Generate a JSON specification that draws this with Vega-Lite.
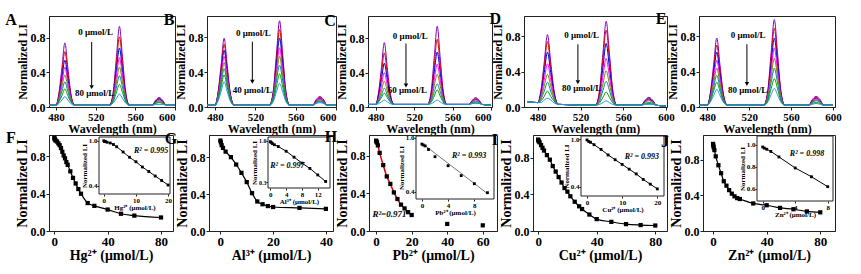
{
"$schema":"https://vega.github.io/schema/vega-lite/v6.json",
"padding":{"left":4,"top":10,"right":0,"bottom":0},
"config":{
 "view":{"stroke":"#222","strokeWidth":1},
 "axis":{"grid":false,"domainColor":"#222","tickColor":"#222","labelColor":"#000","titleColor":"#000","labelFont":"Liberation Serif","titleFont":"Liberation Serif","labelFontWeight":"bold","titleFontWeight":"bold","labelFontSize":12,"titleFontSize":12,"tickSize":3,"labelPadding":1,"titlePadding":1,"labelOverlap":false},
 "text":{"font":"Liberation Serif","fontWeight":"bold","color":"#000"}
},
"datasets":{
"A":[
{"c":0,"w":470,"v":0.02},{"c":0,"w":480,"v":0.02},{"c":0,"w":483,"v":0.16},{"c":0,"w":486,"v":0.45},{"c":0,"w":489,"v":0.74},{"c":0,"w":492,"v":0.45},{"c":0,"w":495,"v":0.16},{"c":0,"w":499,"v":0.02},{"c":0,"w":534,"v":0.02},{"c":0,"w":538,"v":0.2},{"c":0,"w":541,"v":0.58},{"c":0,"w":544,"v":0.93},{"c":0,"w":547,"v":0.58},{"c":0,"w":550,"v":0.2},{"c":0,"w":554,"v":0.02},{"c":0,"w":577,"v":0.02},{"c":0,"w":580,"v":0.07},{"c":0,"w":584,"v":0.11},{"c":0,"w":588,"v":0.07},{"c":0,"w":591,"v":0.02},{"c":0,"w":600,"v":0.02},
{"c":1,"w":470,"v":0.02},{"c":1,"w":480,"v":0.02},{"c":1,"w":483,"v":0.14},{"c":1,"w":486,"v":0.39},{"c":1,"w":489,"v":0.64},{"c":1,"w":492,"v":0.39},{"c":1,"w":495,"v":0.14},{"c":1,"w":499,"v":0.02},{"c":1,"w":534,"v":0.02},{"c":1,"w":538,"v":0.18},{"c":1,"w":541,"v":0.51},{"c":1,"w":544,"v":0.81},{"c":1,"w":547,"v":0.51},{"c":1,"w":550,"v":0.18},{"c":1,"w":554,"v":0.02},{"c":1,"w":577,"v":0.02},{"c":1,"w":580,"v":0.06},{"c":1,"w":584,"v":0.1},{"c":1,"w":588,"v":0.06},{"c":1,"w":591,"v":0.02},{"c":1,"w":600,"v":0.02},
{"c":2,"w":470,"v":0.02},{"c":2,"w":480,"v":0.02},{"c":2,"w":483,"v":0.12},{"c":2,"w":486,"v":0.33},{"c":2,"w":489,"v":0.54},{"c":2,"w":492,"v":0.33},{"c":2,"w":495,"v":0.12},{"c":2,"w":499,"v":0.02},{"c":2,"w":534,"v":0.02},{"c":2,"w":538,"v":0.15},{"c":2,"w":541,"v":0.43},{"c":2,"w":544,"v":0.68},{"c":2,"w":547,"v":0.43},{"c":2,"w":550,"v":0.15},{"c":2,"w":554,"v":0.02},{"c":2,"w":577,"v":0.02},{"c":2,"w":580,"v":0.06},{"c":2,"w":584,"v":0.09},{"c":2,"w":588,"v":0.06},{"c":2,"w":591,"v":0.02},{"c":2,"w":600,"v":0.02},
{"c":3,"w":470,"v":0.02},{"c":3,"w":480,"v":0.02},{"c":3,"w":483,"v":0.11},{"c":3,"w":486,"v":0.28},{"c":3,"w":489,"v":0.46},{"c":3,"w":492,"v":0.28},{"c":3,"w":495,"v":0.11},{"c":3,"w":499,"v":0.02},{"c":3,"w":534,"v":0.02},{"c":3,"w":538,"v":0.13},{"c":3,"w":541,"v":0.36},{"c":3,"w":544,"v":0.57},{"c":3,"w":547,"v":0.36},{"c":3,"w":550,"v":0.13},{"c":3,"w":554,"v":0.02},{"c":3,"w":577,"v":0.02},{"c":3,"w":580,"v":0.05},{"c":3,"w":584,"v":0.08},{"c":3,"w":588,"v":0.05},{"c":3,"w":591,"v":0.02},{"c":3,"w":600,"v":0.02},
{"c":4,"w":470,"v":0.02},{"c":4,"w":480,"v":0.02},{"c":4,"w":483,"v":0.09},{"c":4,"w":486,"v":0.23},{"c":4,"w":489,"v":0.37},{"c":4,"w":492,"v":0.23},{"c":4,"w":495,"v":0.09},{"c":4,"w":499,"v":0.02},{"c":4,"w":534,"v":0.02},{"c":4,"w":538,"v":0.11},{"c":4,"w":541,"v":0.29},{"c":4,"w":544,"v":0.46},{"c":4,"w":547,"v":0.29},{"c":4,"w":550,"v":0.11},{"c":4,"w":554,"v":0.02},{"c":4,"w":577,"v":0.02},{"c":4,"w":580,"v":0.05},{"c":4,"w":584,"v":0.07},{"c":4,"w":588,"v":0.05},{"c":4,"w":591,"v":0.02},{"c":4,"w":600,"v":0.02},
{"c":5,"w":470,"v":0.02},{"c":5,"w":480,"v":0.02},{"c":5,"w":483,"v":0.07},{"c":5,"w":486,"v":0.18},{"c":5,"w":489,"v":0.29},{"c":5,"w":492,"v":0.18},{"c":5,"w":495,"v":0.07},{"c":5,"w":499,"v":0.02},{"c":5,"w":534,"v":0.02},{"c":5,"w":538,"v":0.09},{"c":5,"w":541,"v":0.23},{"c":5,"w":544,"v":0.36},{"c":5,"w":547,"v":0.23},{"c":5,"w":550,"v":0.09},{"c":5,"w":554,"v":0.02},{"c":5,"w":577,"v":0.02},{"c":5,"w":580,"v":0.04},{"c":5,"w":584,"v":0.06},{"c":5,"w":588,"v":0.04},{"c":5,"w":591,"v":0.02},{"c":5,"w":600,"v":0.02},
{"c":6,"w":470,"v":0.02},{"c":6,"w":480,"v":0.02},{"c":6,"w":483,"v":0.06},{"c":6,"w":486,"v":0.13},{"c":6,"w":489,"v":0.21},{"c":6,"w":492,"v":0.13},{"c":6,"w":495,"v":0.06},{"c":6,"w":499,"v":0.02},{"c":6,"w":534,"v":0.02},{"c":6,"w":538,"v":0.07},{"c":6,"w":541,"v":0.17},{"c":6,"w":544,"v":0.26},{"c":6,"w":547,"v":0.17},{"c":6,"w":550,"v":0.07},{"c":6,"w":554,"v":0.02},{"c":6,"w":577,"v":0.02},{"c":6,"w":580,"v":0.04},{"c":6,"w":584,"v":0.05},{"c":6,"w":588,"v":0.04},{"c":6,"w":591,"v":0.02},{"c":6,"w":600,"v":0.02},
{"c":7,"w":470,"v":0.02},{"c":7,"w":480,"v":0.02},{"c":7,"w":483,"v":0.04},{"c":7,"w":486,"v":0.08},{"c":7,"w":489,"v":0.12},{"c":7,"w":492,"v":0.08},{"c":7,"w":495,"v":0.04},{"c":7,"w":499,"v":0.02},{"c":7,"w":534,"v":0.02},{"c":7,"w":538,"v":0.05},{"c":7,"w":541,"v":0.1},{"c":7,"w":544,"v":0.15},{"c":7,"w":547,"v":0.1},{"c":7,"w":550,"v":0.05},{"c":7,"w":554,"v":0.02},{"c":7,"w":577,"v":0.02},{"c":7,"w":580,"v":0.03},{"c":7,"w":584,"v":0.03},{"c":7,"w":588,"v":0.03},{"c":7,"w":591,"v":0.02},{"c":7,"w":600,"v":0.02}
],
"B":[
{"c":0,"w":470,"v":0.02},{"c":0,"w":480,"v":0.02},{"c":0,"w":483,"v":0.17},{"c":0,"w":486,"v":0.48},{"c":0,"w":489,"v":0.79},{"c":0,"w":492,"v":0.48},{"c":0,"w":495,"v":0.17},{"c":0,"w":499,"v":0.02},{"c":0,"w":534,"v":0.02},{"c":0,"w":538,"v":0.21},{"c":0,"w":541,"v":0.62},{"c":0,"w":544,"v":0.99},{"c":0,"w":547,"v":0.62},{"c":0,"w":550,"v":0.21},{"c":0,"w":554,"v":0.02},{"c":0,"w":577,"v":0.02},{"c":0,"w":580,"v":0.08},{"c":0,"w":584,"v":0.12},{"c":0,"w":588,"v":0.08},{"c":0,"w":591,"v":0.02},{"c":0,"w":600,"v":0.02},
{"c":1,"w":470,"v":0.02},{"c":1,"w":480,"v":0.02},{"c":1,"w":483,"v":0.16},{"c":1,"w":486,"v":0.44},{"c":1,"w":489,"v":0.72},{"c":1,"w":492,"v":0.44},{"c":1,"w":495,"v":0.16},{"c":1,"w":499,"v":0.02},{"c":1,"w":534,"v":0.02},{"c":1,"w":538,"v":0.19},{"c":1,"w":541,"v":0.56},{"c":1,"w":544,"v":0.89},{"c":1,"w":547,"v":0.56},{"c":1,"w":550,"v":0.19},{"c":1,"w":554,"v":0.02},{"c":1,"w":577,"v":0.02},{"c":1,"w":580,"v":0.07},{"c":1,"w":584,"v":0.11},{"c":1,"w":588,"v":0.07},{"c":1,"w":591,"v":0.02},{"c":1,"w":600,"v":0.02},
{"c":2,"w":470,"v":0.02},{"c":2,"w":480,"v":0.02},{"c":2,"w":483,"v":0.15},{"c":2,"w":486,"v":0.4},{"c":2,"w":489,"v":0.65},{"c":2,"w":492,"v":0.4},{"c":2,"w":495,"v":0.15},{"c":2,"w":499,"v":0.02},{"c":2,"w":534,"v":0.02},{"c":2,"w":538,"v":0.17},{"c":2,"w":541,"v":0.5},{"c":2,"w":544,"v":0.79},{"c":2,"w":547,"v":0.5},{"c":2,"w":550,"v":0.17},{"c":2,"w":554,"v":0.02},{"c":2,"w":577,"v":0.02},{"c":2,"w":580,"v":0.06},{"c":2,"w":584,"v":0.1},{"c":2,"w":588,"v":0.06},{"c":2,"w":591,"v":0.02},{"c":2,"w":600,"v":0.02},
{"c":3,"w":470,"v":0.02},{"c":3,"w":480,"v":0.02},{"c":3,"w":483,"v":0.13},{"c":3,"w":486,"v":0.36},{"c":3,"w":489,"v":0.58},{"c":3,"w":492,"v":0.36},{"c":3,"w":495,"v":0.13},{"c":3,"w":499,"v":0.02},{"c":3,"w":534,"v":0.02},{"c":3,"w":538,"v":0.15},{"c":3,"w":541,"v":0.43},{"c":3,"w":544,"v":0.68},{"c":3,"w":547,"v":0.43},{"c":3,"w":550,"v":0.15},{"c":3,"w":554,"v":0.02},{"c":3,"w":577,"v":0.02},{"c":3,"w":580,"v":0.06},{"c":3,"w":584,"v":0.09},{"c":3,"w":588,"v":0.06},{"c":3,"w":591,"v":0.02},{"c":3,"w":600,"v":0.02},
{"c":4,"w":470,"v":0.02},{"c":4,"w":480,"v":0.02},{"c":4,"w":483,"v":0.12},{"c":4,"w":486,"v":0.31},{"c":4,"w":489,"v":0.51},{"c":4,"w":492,"v":0.31},{"c":4,"w":495,"v":0.12},{"c":4,"w":499,"v":0.02},{"c":4,"w":534,"v":0.02},{"c":4,"w":538,"v":0.13},{"c":4,"w":541,"v":0.37},{"c":4,"w":544,"v":0.58},{"c":4,"w":547,"v":0.37},{"c":4,"w":550,"v":0.13},{"c":4,"w":554,"v":0.02},{"c":4,"w":577,"v":0.02},{"c":4,"w":580,"v":0.05},{"c":4,"w":584,"v":0.08},{"c":4,"w":588,"v":0.05},{"c":4,"w":591,"v":0.02},{"c":4,"w":600,"v":0.02},
{"c":5,"w":470,"v":0.02},{"c":5,"w":480,"v":0.02},{"c":5,"w":483,"v":0.1},{"c":5,"w":486,"v":0.27},{"c":5,"w":489,"v":0.44},{"c":5,"w":492,"v":0.27},{"c":5,"w":495,"v":0.1},{"c":5,"w":499,"v":0.02},{"c":5,"w":534,"v":0.02},{"c":5,"w":538,"v":0.11},{"c":5,"w":541,"v":0.31},{"c":5,"w":544,"v":0.48},{"c":5,"w":547,"v":0.31},{"c":5,"w":550,"v":0.11},{"c":5,"w":554,"v":0.02},{"c":5,"w":577,"v":0.02},{"c":5,"w":580,"v":0.05},{"c":5,"w":584,"v":0.07},{"c":5,"w":588,"v":0.05},{"c":5,"w":591,"v":0.02},{"c":5,"w":600,"v":0.02},
{"c":6,"w":470,"v":0.02},{"c":6,"w":480,"v":0.02},{"c":6,"w":483,"v":0.09},{"c":6,"w":486,"v":0.23},{"c":6,"w":489,"v":0.37},{"c":6,"w":492,"v":0.23},{"c":6,"w":495,"v":0.09},{"c":6,"w":499,"v":0.02},{"c":6,"w":534,"v":0.02},{"c":6,"w":538,"v":0.09},{"c":6,"w":541,"v":0.24},{"c":6,"w":544,"v":0.38},{"c":6,"w":547,"v":0.24},{"c":6,"w":550,"v":0.09},{"c":6,"w":554,"v":0.02},{"c":6,"w":577,"v":0.02},{"c":6,"w":580,"v":0.04},{"c":6,"w":584,"v":0.06},{"c":6,"w":588,"v":0.04},{"c":6,"w":591,"v":0.02},{"c":6,"w":600,"v":0.02},
{"c":7,"w":470,"v":0.02},{"c":7,"w":480,"v":0.02},{"c":7,"w":483,"v":0.07},{"c":7,"w":486,"v":0.18},{"c":7,"w":489,"v":0.29},{"c":7,"w":492,"v":0.18},{"c":7,"w":495,"v":0.07},{"c":7,"w":499,"v":0.02},{"c":7,"w":534,"v":0.02},{"c":7,"w":538,"v":0.07},{"c":7,"w":541,"v":0.18},{"c":7,"w":544,"v":0.27},{"c":7,"w":547,"v":0.18},{"c":7,"w":550,"v":0.07},{"c":7,"w":554,"v":0.02},{"c":7,"w":577,"v":0.02},{"c":7,"w":580,"v":0.04},{"c":7,"w":584,"v":0.05},{"c":7,"w":588,"v":0.04},{"c":7,"w":591,"v":0.02},{"c":7,"w":600,"v":0.02}
],
"C":[
{"c":0,"w":470,"v":0.03},{"c":0,"w":480,"v":0.03},{"c":0,"w":483,"v":0.17},{"c":0,"w":486,"v":0.46},{"c":0,"w":489,"v":0.75},{"c":0,"w":492,"v":0.46},{"c":0,"w":495,"v":0.17},{"c":0,"w":499,"v":0.03},{"c":0,"w":534,"v":0.03},{"c":0,"w":538,"v":0.21},{"c":0,"w":541,"v":0.59},{"c":0,"w":544,"v":0.94},{"c":0,"w":547,"v":0.59},{"c":0,"w":550,"v":0.21},{"c":0,"w":554,"v":0.03},{"c":0,"w":577,"v":0.03},{"c":0,"w":580,"v":0.07},{"c":0,"w":584,"v":0.11},{"c":0,"w":588,"v":0.07},{"c":0,"w":591,"v":0.03},{"c":0,"w":600,"v":0.02},
{"c":1,"w":470,"v":0.03},{"c":1,"w":480,"v":0.03},{"c":1,"w":483,"v":0.15},{"c":1,"w":486,"v":0.39},{"c":1,"w":489,"v":0.63},{"c":1,"w":492,"v":0.39},{"c":1,"w":495,"v":0.15},{"c":1,"w":499,"v":0.03},{"c":1,"w":534,"v":0.03},{"c":1,"w":538,"v":0.18},{"c":1,"w":541,"v":0.5},{"c":1,"w":544,"v":0.79},{"c":1,"w":547,"v":0.5},{"c":1,"w":550,"v":0.18},{"c":1,"w":554,"v":0.03},{"c":1,"w":577,"v":0.03},{"c":1,"w":580,"v":0.07},{"c":1,"w":584,"v":0.1},{"c":1,"w":588,"v":0.07},{"c":1,"w":591,"v":0.03},{"c":1,"w":600,"v":0.02},
{"c":2,"w":470,"v":0.03},{"c":2,"w":480,"v":0.03},{"c":2,"w":483,"v":0.13},{"c":2,"w":486,"v":0.32},{"c":2,"w":489,"v":0.51},{"c":2,"w":492,"v":0.32},{"c":2,"w":495,"v":0.13},{"c":2,"w":499,"v":0.03},{"c":2,"w":534,"v":0.03},{"c":2,"w":538,"v":0.15},{"c":2,"w":541,"v":0.41},{"c":2,"w":544,"v":0.64},{"c":2,"w":547,"v":0.41},{"c":2,"w":550,"v":0.15},{"c":2,"w":554,"v":0.03},{"c":2,"w":577,"v":0.03},{"c":2,"w":580,"v":0.06},{"c":2,"w":584,"v":0.09},{"c":2,"w":588,"v":0.06},{"c":2,"w":591,"v":0.03},{"c":2,"w":600,"v":0.02},
{"c":3,"w":470,"v":0.03},{"c":3,"w":480,"v":0.03},{"c":3,"w":483,"v":0.1},{"c":3,"w":486,"v":0.25},{"c":3,"w":489,"v":0.4},{"c":3,"w":492,"v":0.25},{"c":3,"w":495,"v":0.1},{"c":3,"w":499,"v":0.03},{"c":3,"w":534,"v":0.03},{"c":3,"w":538,"v":0.12},{"c":3,"w":541,"v":0.32},{"c":3,"w":544,"v":0.5},{"c":3,"w":547,"v":0.32},{"c":3,"w":550,"v":0.12},{"c":3,"w":554,"v":0.03},{"c":3,"w":577,"v":0.03},{"c":3,"w":580,"v":0.06},{"c":3,"w":584,"v":0.08},{"c":3,"w":588,"v":0.06},{"c":3,"w":591,"v":0.03},{"c":3,"w":600,"v":0.02},
{"c":4,"w":470,"v":0.03},{"c":4,"w":480,"v":0.03},{"c":4,"w":483,"v":0.08},{"c":4,"w":486,"v":0.19},{"c":4,"w":489,"v":0.3},{"c":4,"w":492,"v":0.19},{"c":4,"w":495,"v":0.08},{"c":4,"w":499,"v":0.03},{"c":4,"w":534,"v":0.03},{"c":4,"w":538,"v":0.1},{"c":4,"w":541,"v":0.25},{"c":4,"w":544,"v":0.38},{"c":4,"w":547,"v":0.25},{"c":4,"w":550,"v":0.1},{"c":4,"w":554,"v":0.03},{"c":4,"w":577,"v":0.03},{"c":4,"w":580,"v":0.05},{"c":4,"w":584,"v":0.07},{"c":4,"w":588,"v":0.05},{"c":4,"w":591,"v":0.03},{"c":4,"w":600,"v":0.02},
{"c":5,"w":470,"v":0.03},{"c":5,"w":480,"v":0.03},{"c":5,"w":483,"v":0.07},{"c":5,"w":486,"v":0.14},{"c":5,"w":489,"v":0.22},{"c":5,"w":492,"v":0.14},{"c":5,"w":495,"v":0.07},{"c":5,"w":499,"v":0.03},{"c":5,"w":534,"v":0.03},{"c":5,"w":538,"v":0.08},{"c":5,"w":541,"v":0.18},{"c":5,"w":544,"v":0.27},{"c":5,"w":547,"v":0.18},{"c":5,"w":550,"v":0.08},{"c":5,"w":554,"v":0.03},{"c":5,"w":577,"v":0.03},{"c":5,"w":580,"v":0.05},{"c":5,"w":584,"v":0.06},{"c":5,"w":588,"v":0.05},{"c":5,"w":591,"v":0.03},{"c":5,"w":600,"v":0.02},
{"c":6,"w":470,"v":0.03},{"c":6,"w":480,"v":0.03},{"c":6,"w":483,"v":0.06},{"c":6,"w":486,"v":0.11},{"c":6,"w":489,"v":0.16},{"c":6,"w":492,"v":0.11},{"c":6,"w":495,"v":0.06},{"c":6,"w":499,"v":0.03},{"c":6,"w":534,"v":0.03},{"c":6,"w":538,"v":0.06},{"c":6,"w":541,"v":0.13},{"c":6,"w":544,"v":0.2},{"c":6,"w":547,"v":0.13},{"c":6,"w":550,"v":0.06},{"c":6,"w":554,"v":0.03},{"c":6,"w":577,"v":0.03},{"c":6,"w":580,"v":0.04},{"c":6,"w":584,"v":0.05},{"c":6,"w":588,"v":0.04},{"c":6,"w":591,"v":0.03},{"c":6,"w":600,"v":0.02},
{"c":7,"w":470,"v":0.03},{"c":7,"w":480,"v":0.03},{"c":7,"w":483,"v":0.04},{"c":7,"w":486,"v":0.06},{"c":7,"w":489,"v":0.08},{"c":7,"w":492,"v":0.06},{"c":7,"w":495,"v":0.04},{"c":7,"w":499,"v":0.03},{"c":7,"w":534,"v":0.03},{"c":7,"w":538,"v":0.04},{"c":7,"w":541,"v":0.06},{"c":7,"w":544,"v":0.08},{"c":7,"w":547,"v":0.06},{"c":7,"w":550,"v":0.04},{"c":7,"w":554,"v":0.03},{"c":7,"w":577,"v":0.03},{"c":7,"w":580,"v":0.04},{"c":7,"w":584,"v":0.04},{"c":7,"w":588,"v":0.04},{"c":7,"w":591,"v":0.03},{"c":7,"w":600,"v":0.02}
],
"D":[
{"c":0,"w":470,"v":0.06},{"c":0,"w":480,"v":0.05},{"c":0,"w":483,"v":0.2},{"c":0,"w":486,"v":0.51},{"c":0,"w":489,"v":0.82},{"c":0,"w":492,"v":0.51},{"c":0,"w":495,"v":0.2},{"c":0,"w":499,"v":0.03},{"c":0,"w":534,"v":0.02},{"c":0,"w":538,"v":0.21},{"c":0,"w":541,"v":0.61},{"c":0,"w":544,"v":0.97},{"c":0,"w":547,"v":0.61},{"c":0,"w":550,"v":0.21},{"c":0,"w":554,"v":0.02},{"c":0,"w":577,"v":0.02},{"c":0,"w":580,"v":0.07},{"c":0,"w":584,"v":0.11},{"c":0,"w":588,"v":0.07},{"c":0,"w":591,"v":0.02},{"c":0,"w":600,"v":0.01},
{"c":1,"w":470,"v":0.06},{"c":1,"w":480,"v":0.05},{"c":1,"w":483,"v":0.18},{"c":1,"w":486,"v":0.46},{"c":1,"w":489,"v":0.74},{"c":1,"w":492,"v":0.46},{"c":1,"w":495,"v":0.18},{"c":1,"w":499,"v":0.03},{"c":1,"w":534,"v":0.02},{"c":1,"w":538,"v":0.19},{"c":1,"w":541,"v":0.55},{"c":1,"w":544,"v":0.87},{"c":1,"w":547,"v":0.55},{"c":1,"w":550,"v":0.19},{"c":1,"w":554,"v":0.02},{"c":1,"w":577,"v":0.02},{"c":1,"w":580,"v":0.06},{"c":1,"w":584,"v":0.1},{"c":1,"w":588,"v":0.06},{"c":1,"w":591,"v":0.02},{"c":1,"w":600,"v":0.01},
{"c":2,"w":470,"v":0.06},{"c":2,"w":480,"v":0.05},{"c":2,"w":483,"v":0.16},{"c":2,"w":486,"v":0.39},{"c":2,"w":489,"v":0.62},{"c":2,"w":492,"v":0.39},{"c":2,"w":495,"v":0.16},{"c":2,"w":499,"v":0.03},{"c":2,"w":534,"v":0.02},{"c":2,"w":538,"v":0.16},{"c":2,"w":541,"v":0.45},{"c":2,"w":544,"v":0.72},{"c":2,"w":547,"v":0.45},{"c":2,"w":550,"v":0.16},{"c":2,"w":554,"v":0.02},{"c":2,"w":577,"v":0.02},{"c":2,"w":580,"v":0.06},{"c":2,"w":584,"v":0.09},{"c":2,"w":588,"v":0.06},{"c":2,"w":591,"v":0.02},{"c":2,"w":600,"v":0.01},
{"c":3,"w":470,"v":0.06},{"c":3,"w":480,"v":0.05},{"c":3,"w":483,"v":0.13},{"c":3,"w":486,"v":0.31},{"c":3,"w":489,"v":0.49},{"c":3,"w":492,"v":0.31},{"c":3,"w":495,"v":0.13},{"c":3,"w":499,"v":0.03},{"c":3,"w":534,"v":0.02},{"c":3,"w":538,"v":0.13},{"c":3,"w":541,"v":0.35},{"c":3,"w":544,"v":0.55},{"c":3,"w":547,"v":0.35},{"c":3,"w":550,"v":0.13},{"c":3,"w":554,"v":0.02},{"c":3,"w":577,"v":0.02},{"c":3,"w":580,"v":0.05},{"c":3,"w":584,"v":0.08},{"c":3,"w":588,"v":0.05},{"c":3,"w":591,"v":0.02},{"c":3,"w":600,"v":0.01},
{"c":4,"w":470,"v":0.06},{"c":4,"w":480,"v":0.05},{"c":4,"w":483,"v":0.11},{"c":4,"w":486,"v":0.24},{"c":4,"w":489,"v":0.37},{"c":4,"w":492,"v":0.24},{"c":4,"w":495,"v":0.11},{"c":4,"w":499,"v":0.03},{"c":4,"w":534,"v":0.02},{"c":4,"w":538,"v":0.1},{"c":4,"w":541,"v":0.26},{"c":4,"w":544,"v":0.41},{"c":4,"w":547,"v":0.26},{"c":4,"w":550,"v":0.1},{"c":4,"w":554,"v":0.02},{"c":4,"w":577,"v":0.02},{"c":4,"w":580,"v":0.05},{"c":4,"w":584,"v":0.07},{"c":4,"w":588,"v":0.05},{"c":4,"w":591,"v":0.02},{"c":4,"w":600,"v":0.01},
{"c":5,"w":470,"v":0.06},{"c":5,"w":480,"v":0.05},{"c":5,"w":483,"v":0.09},{"c":5,"w":486,"v":0.18},{"c":5,"w":489,"v":0.28},{"c":5,"w":492,"v":0.18},{"c":5,"w":495,"v":0.09},{"c":5,"w":499,"v":0.03},{"c":5,"w":534,"v":0.02},{"c":5,"w":538,"v":0.07},{"c":5,"w":541,"v":0.19},{"c":5,"w":544,"v":0.29},{"c":5,"w":547,"v":0.19},{"c":5,"w":550,"v":0.07},{"c":5,"w":554,"v":0.02},{"c":5,"w":577,"v":0.02},{"c":5,"w":580,"v":0.04},{"c":5,"w":584,"v":0.05},{"c":5,"w":588,"v":0.04},{"c":5,"w":591,"v":0.02},{"c":5,"w":600,"v":0.01},
{"c":6,"w":470,"v":0.06},{"c":6,"w":480,"v":0.05},{"c":6,"w":483,"v":0.07},{"c":6,"w":486,"v":0.12},{"c":6,"w":489,"v":0.18},{"c":6,"w":492,"v":0.12},{"c":6,"w":495,"v":0.07},{"c":6,"w":499,"v":0.03},{"c":6,"w":534,"v":0.02},{"c":6,"w":538,"v":0.05},{"c":6,"w":541,"v":0.11},{"c":6,"w":544,"v":0.17},{"c":6,"w":547,"v":0.11},{"c":6,"w":550,"v":0.05},{"c":6,"w":554,"v":0.02},{"c":6,"w":577,"v":0.02},{"c":6,"w":580,"v":0.03},{"c":6,"w":584,"v":0.04},{"c":6,"w":588,"v":0.03},{"c":6,"w":591,"v":0.02},{"c":6,"w":600,"v":0.01},
{"c":7,"w":470,"v":0.06},{"c":7,"w":480,"v":0.05},{"c":7,"w":483,"v":0.05},{"c":7,"w":486,"v":0.08},{"c":7,"w":489,"v":0.1},{"c":7,"w":492,"v":0.08},{"c":7,"w":495,"v":0.05},{"c":7,"w":499,"v":0.03},{"c":7,"w":534,"v":0.02},{"c":7,"w":538,"v":0.03},{"c":7,"w":541,"v":0.05},{"c":7,"w":544,"v":0.07},{"c":7,"w":547,"v":0.05},{"c":7,"w":550,"v":0.03},{"c":7,"w":554,"v":0.02},{"c":7,"w":577,"v":0.02},{"c":7,"w":580,"v":0.03},{"c":7,"w":584,"v":0.03},{"c":7,"w":588,"v":0.03},{"c":7,"w":591,"v":0.02},{"c":7,"w":600,"v":0.01}
],
"E":[
{"c":0,"w":470,"v":0.02},{"c":0,"w":480,"v":0.02},{"c":0,"w":483,"v":0.17},{"c":0,"w":486,"v":0.48},{"c":0,"w":489,"v":0.78},{"c":0,"w":492,"v":0.48},{"c":0,"w":495,"v":0.17},{"c":0,"w":499,"v":0.02},{"c":0,"w":534,"v":0.02},{"c":0,"w":538,"v":0.21},{"c":0,"w":541,"v":0.62},{"c":0,"w":544,"v":0.99},{"c":0,"w":547,"v":0.62},{"c":0,"w":550,"v":0.21},{"c":0,"w":554,"v":0.02},{"c":0,"w":577,"v":0.02},{"c":0,"w":580,"v":0.08},{"c":0,"w":584,"v":0.12},{"c":0,"w":588,"v":0.08},{"c":0,"w":591,"v":0.02},{"c":0,"w":600,"v":0.02},
{"c":1,"w":470,"v":0.02},{"c":1,"w":480,"v":0.02},{"c":1,"w":483,"v":0.16},{"c":1,"w":486,"v":0.43},{"c":1,"w":489,"v":0.7},{"c":1,"w":492,"v":0.43},{"c":1,"w":495,"v":0.16},{"c":1,"w":499,"v":0.02},{"c":1,"w":534,"v":0.02},{"c":1,"w":538,"v":0.19},{"c":1,"w":541,"v":0.56},{"c":1,"w":544,"v":0.89},{"c":1,"w":547,"v":0.56},{"c":1,"w":550,"v":0.19},{"c":1,"w":554,"v":0.02},{"c":1,"w":577,"v":0.02},{"c":1,"w":580,"v":0.07},{"c":1,"w":584,"v":0.11},{"c":1,"w":588,"v":0.07},{"c":1,"w":591,"v":0.02},{"c":1,"w":600,"v":0.02},
{"c":2,"w":470,"v":0.02},{"c":2,"w":480,"v":0.02},{"c":2,"w":483,"v":0.14},{"c":2,"w":486,"v":0.38},{"c":2,"w":489,"v":0.62},{"c":2,"w":492,"v":0.38},{"c":2,"w":495,"v":0.14},{"c":2,"w":499,"v":0.02},{"c":2,"w":534,"v":0.02},{"c":2,"w":538,"v":0.17},{"c":2,"w":541,"v":0.49},{"c":2,"w":544,"v":0.78},{"c":2,"w":547,"v":0.49},{"c":2,"w":550,"v":0.17},{"c":2,"w":554,"v":0.02},{"c":2,"w":577,"v":0.02},{"c":2,"w":580,"v":0.06},{"c":2,"w":584,"v":0.1},{"c":2,"w":588,"v":0.06},{"c":2,"w":591,"v":0.02},{"c":2,"w":600,"v":0.02},
{"c":3,"w":470,"v":0.02},{"c":3,"w":480,"v":0.02},{"c":3,"w":483,"v":0.12},{"c":3,"w":486,"v":0.33},{"c":3,"w":489,"v":0.53},{"c":3,"w":492,"v":0.33},{"c":3,"w":495,"v":0.12},{"c":3,"w":499,"v":0.02},{"c":3,"w":534,"v":0.02},{"c":3,"w":538,"v":0.15},{"c":3,"w":541,"v":0.42},{"c":3,"w":544,"v":0.67},{"c":3,"w":547,"v":0.42},{"c":3,"w":550,"v":0.15},{"c":3,"w":554,"v":0.02},{"c":3,"w":577,"v":0.02},{"c":3,"w":580,"v":0.06},{"c":3,"w":584,"v":0.09},{"c":3,"w":588,"v":0.06},{"c":3,"w":591,"v":0.02},{"c":3,"w":600,"v":0.02},
{"c":4,"w":470,"v":0.02},{"c":4,"w":480,"v":0.02},{"c":4,"w":483,"v":0.1},{"c":4,"w":486,"v":0.27},{"c":4,"w":489,"v":0.44},{"c":4,"w":492,"v":0.27},{"c":4,"w":495,"v":0.1},{"c":4,"w":499,"v":0.02},{"c":4,"w":534,"v":0.02},{"c":4,"w":538,"v":0.13},{"c":4,"w":541,"v":0.35},{"c":4,"w":544,"v":0.55},{"c":4,"w":547,"v":0.35},{"c":4,"w":550,"v":0.13},{"c":4,"w":554,"v":0.02},{"c":4,"w":577,"v":0.02},{"c":4,"w":580,"v":0.05},{"c":4,"w":584,"v":0.08},{"c":4,"w":588,"v":0.05},{"c":4,"w":591,"v":0.02},{"c":4,"w":600,"v":0.02},
{"c":5,"w":470,"v":0.02},{"c":5,"w":480,"v":0.02},{"c":5,"w":483,"v":0.09},{"c":5,"w":486,"v":0.22},{"c":5,"w":489,"v":0.36},{"c":5,"w":492,"v":0.22},{"c":5,"w":495,"v":0.09},{"c":5,"w":499,"v":0.02},{"c":5,"w":534,"v":0.02},{"c":5,"w":538,"v":0.1},{"c":5,"w":541,"v":0.28},{"c":5,"w":544,"v":0.44},{"c":5,"w":547,"v":0.28},{"c":5,"w":550,"v":0.1},{"c":5,"w":554,"v":0.02},{"c":5,"w":577,"v":0.02},{"c":5,"w":580,"v":0.05},{"c":5,"w":584,"v":0.07},{"c":5,"w":588,"v":0.05},{"c":5,"w":591,"v":0.02},{"c":5,"w":600,"v":0.02},
{"c":6,"w":470,"v":0.02},{"c":6,"w":480,"v":0.02},{"c":6,"w":483,"v":0.07},{"c":6,"w":486,"v":0.18},{"c":6,"w":489,"v":0.28},{"c":6,"w":492,"v":0.18},{"c":6,"w":495,"v":0.07},{"c":6,"w":499,"v":0.02},{"c":6,"w":534,"v":0.02},{"c":6,"w":538,"v":0.08},{"c":6,"w":541,"v":0.21},{"c":6,"w":544,"v":0.32},{"c":6,"w":547,"v":0.21},{"c":6,"w":550,"v":0.08},{"c":6,"w":554,"v":0.02},{"c":6,"w":577,"v":0.02},{"c":6,"w":580,"v":0.04},{"c":6,"w":584,"v":0.05},{"c":6,"w":588,"v":0.04},{"c":6,"w":591,"v":0.02},{"c":6,"w":600,"v":0.02},
{"c":7,"w":470,"v":0.02},{"c":7,"w":480,"v":0.02},{"c":7,"w":483,"v":0.06},{"c":7,"w":486,"v":0.13},{"c":7,"w":489,"v":0.2},{"c":7,"w":492,"v":0.13},{"c":7,"w":495,"v":0.06},{"c":7,"w":499,"v":0.02},{"c":7,"w":534,"v":0.02},{"c":7,"w":538,"v":0.06},{"c":7,"w":541,"v":0.14},{"c":7,"w":544,"v":0.21},{"c":7,"w":547,"v":0.14},{"c":7,"w":550,"v":0.06},{"c":7,"w":554,"v":0.02},{"c":7,"w":577,"v":0.02},{"c":7,"w":580,"v":0.03},{"c":7,"w":584,"v":0.04},{"c":7,"w":588,"v":0.03},{"c":7,"w":591,"v":0.02},{"c":7,"w":600,"v":0.02}
],
"F":[{"x":0,"y":1.0},{"x":0.2,"y":0.99},{"x":0.5,"y":0.98},{"x":1,"y":0.97},{"x":2,"y":0.96},{"x":3,"y":0.94},{"x":4,"y":0.92},{"x":5,"y":0.89},{"x":6,"y":0.85},{"x":7,"y":0.81},{"x":8,"y":0.78},{"x":9,"y":0.74},{"x":10,"y":0.71},{"x":12,"y":0.64},{"x":14,"y":0.57},{"x":16,"y":0.51},{"x":18,"y":0.45},{"x":20,"y":0.4},{"x":25,"y":0.3},{"x":30,"y":0.27},{"x":40,"y":0.23},{"x":50,"y":0.185},{"x":60,"y":0.165},{"x":80,"y":0.145}],
"Fi":[{"x":0,"y":1.0},{"x":0.2,"y":0.99},{"x":0.5,"y":0.99},{"x":1,"y":0.98},{"x":2,"y":0.97},{"x":3,"y":0.95},{"x":4,"y":0.92},{"x":6,"y":0.85},{"x":8,"y":0.78},{"x":10,"y":0.72},{"x":12,"y":0.65},{"x":14,"y":0.59},{"x":16,"y":0.53},{"x":18,"y":0.47},{"x":20,"y":0.41}],
"G":[{"x":0,"y":0.98},{"x":0.2,"y":0.96},{"x":0.5,"y":0.93},{"x":1,"y":0.9},{"x":2,"y":0.86},{"x":4,"y":0.8},{"x":6,"y":0.72},{"x":8,"y":0.63},{"x":10,"y":0.53},{"x":12,"y":0.41},{"x":14,"y":0.32},{"x":16,"y":0.29},{"x":18,"y":0.27},{"x":20,"y":0.26},{"x":30,"y":0.25},{"x":40,"y":0.24}],
"Gi":[{"x":0,"y":0.98},{"x":0.2,"y":0.97},{"x":0.5,"y":0.95},{"x":1,"y":0.93},{"x":2,"y":0.9},{"x":4,"y":0.82},{"x":6,"y":0.72},{"x":8,"y":0.62},{"x":10,"y":0.53},{"x":12,"y":0.42},{"x":14,"y":0.31}],
"H":[{"x":0,"y":0.96},{"x":0.2,"y":0.95},{"x":0.5,"y":0.94},{"x":1,"y":0.91},{"x":2,"y":0.83},{"x":4,"y":0.7},{"x":6,"y":0.58},{"x":8,"y":0.5},{"x":10,"y":0.41},{"x":12,"y":0.34},{"x":14,"y":0.28},{"x":16,"y":0.24},{"x":18,"y":0.2},{"x":20,"y":0.17},{"x":40,"y":0.075},{"x":60,"y":0.06}],
"Hi":[{"x":0,"y":0.93},{"x":0.2,"y":0.92},{"x":0.5,"y":0.91},{"x":1,"y":0.87},{"x":2,"y":0.79},{"x":4,"y":0.69},{"x":6,"y":0.58},{"x":8,"y":0.49},{"x":10,"y":0.39}],
"Hf":[{"x":0,"y":0.94},{"x":10,"y":0.38}],
"I":[{"x":0,"y":1.0},{"x":0.2,"y":0.99},{"x":0.5,"y":0.98},{"x":1,"y":0.97},{"x":2,"y":0.94},{"x":3,"y":0.91},{"x":4,"y":0.88},{"x":6,"y":0.83},{"x":8,"y":0.78},{"x":10,"y":0.71},{"x":12,"y":0.65},{"x":14,"y":0.59},{"x":16,"y":0.53},{"x":18,"y":0.47},{"x":20,"y":0.43},{"x":22,"y":0.38},{"x":25,"y":0.32},{"x":28,"y":0.27},{"x":30,"y":0.24},{"x":35,"y":0.18},{"x":40,"y":0.13},{"x":50,"y":0.1},{"x":60,"y":0.075},{"x":70,"y":0.065},{"x":80,"y":0.06}],
"Ii":[{"x":0,"y":0.99},{"x":0.5,"y":0.97},{"x":1,"y":0.96},{"x":2,"y":0.93},{"x":4,"y":0.87},{"x":6,"y":0.8},{"x":8,"y":0.74},{"x":10,"y":0.68},{"x":12,"y":0.62},{"x":14,"y":0.56},{"x":16,"y":0.49},{"x":18,"y":0.43},{"x":20,"y":0.37}],
"J":[{"x":0,"y":0.98},{"x":0.2,"y":0.96},{"x":0.5,"y":0.94},{"x":1,"y":0.91},{"x":2,"y":0.84},{"x":4,"y":0.74},{"x":6,"y":0.65},{"x":8,"y":0.56},{"x":10,"y":0.51},{"x":12,"y":0.46},{"x":14,"y":0.42},{"x":16,"y":0.39},{"x":18,"y":0.37},{"x":20,"y":0.36},{"x":30,"y":0.31},{"x":40,"y":0.29},{"x":50,"y":0.26},{"x":60,"y":0.245},{"x":70,"y":0.22},{"x":80,"y":0.21}],
"Ji":[{"x":0,"y":0.98},{"x":0.2,"y":0.97},{"x":0.5,"y":0.96},{"x":1,"y":0.94},{"x":2,"y":0.89},{"x":4,"y":0.79},{"x":6,"y":0.71},{"x":8,"y":0.62}]
},
"spacing":-7,
"vconcat":[
{"hconcat":[
 {"width":126,"height":91,"layer":[
  {"data":{"name":"A"},"mark":{"type":"line","interpolate":"monotone","strokeWidth":1,"clip":true},"encoding":{"x":{"field":"w","type":"quantitative","scale":{"domain":[473,600],"nice":false,"zero":false},"axis":{"values":[480,520,560,600],"title":"Wavelength (nm)","labelFontSize":11}},"y":{"field":"v","type":"quantitative","scale":{"domain":[0,1.05],"nice":false},"axis":{"values":[0,0.2,0.4,0.6,0.8,1],"format":".1f","title":"Normalized LI"}},"color":{"field":"c","type":"nominal","scale":{"range":["#7F00BF","#E00000","#0000E0","#FF00FF","#808000","#008B8B","#00A000","#1E90FF"]},"legend":null}}},
  {"data":{"values":[{}]},"mark":{"type":"text","fontSize":9},"encoding":{"x":{"datum":520},"y":{"datum":0.86},"text":{"value":"0 μmol/L"}}},
  {"data":{"values":[{}]},"mark":{"type":"rule","color":"black"},"encoding":{"x":{"datum":516},"y":{"datum":0.75},"y2":{"datum":0.25}}},
  {"data":{"values":[{}]},"mark":{"type":"point","shape":"triangle-down","filled":true,"color":"black","size":20,"opacity":1},"encoding":{"x":{"datum":516},"y":{"datum":0.23}}},
  {"data":{"values":[{}]},"mark":{"type":"text","fontSize":9},"encoding":{"x":{"datum":519},"y":{"datum":0.16},"text":{"value":"80 μmol/L"}}},
  {"data":{"values":[{}]},"mark":{"type":"text","fontSize":16},"encoding":{"x":{"datum":434.7},"y":{"datum":1.0},"text":{"value":"A"}}}
 ]},
 {"width":129,"height":91,"layer":[
  {"data":{"name":"B"},"mark":{"type":"line","interpolate":"monotone","strokeWidth":1,"clip":true},"encoding":{"x":{"field":"w","type":"quantitative","scale":{"domain":[472,600],"nice":false,"zero":false},"axis":{"values":[480,520,560,600],"title":"Wavelength (nm)","labelFontSize":11}},"y":{"field":"v","type":"quantitative","scale":{"domain":[0,1.045],"nice":false},"axis":{"values":[0,0.2,0.4,0.6,0.8,1],"format":".1f","title":"Normalized LI"}},"color":{"field":"c","type":"nominal","scale":{"range":["#7F00BF","#E00000","#0000E0","#FF00FF","#808000","#008B8B","#00A000","#1E90FF"]},"legend":null}}},
  {"data":{"values":[{}]},"mark":{"type":"text","fontSize":9},"encoding":{"x":{"datum":518},"y":{"datum":0.85},"text":{"value":"0 μmol/L"}}},
  {"data":{"values":[{}]},"mark":{"type":"rule","color":"black"},"encoding":{"x":{"datum":517},"y":{"datum":0.75},"y2":{"datum":0.31}}},
  {"data":{"values":[{}]},"mark":{"type":"point","shape":"triangle-down","filled":true,"color":"black","size":20,"opacity":1},"encoding":{"x":{"datum":517},"y":{"datum":0.29}}},
  {"data":{"values":[{}]},"mark":{"type":"text","fontSize":9},"encoding":{"x":{"datum":517},"y":{"datum":0.2},"text":{"value":"40 μmol/L"}}},
  {"data":{"values":[{}]},"mark":{"type":"text","fontSize":16},"encoding":{"x":{"datum":434.3},"y":{"datum":1.0},"text":{"value":"B"}}}
 ]},
 {"width":124,"height":91,"layer":[
  {"data":{"name":"C"},"mark":{"type":"line","interpolate":"monotone","strokeWidth":1,"clip":true},"encoding":{"x":{"field":"w","type":"quantitative","scale":{"domain":[472,601],"nice":false,"zero":false},"axis":{"values":[480,520,560,600],"title":"Wavelength (nm)","labelFontSize":11}},"y":{"field":"v","type":"quantitative","scale":{"domain":[0,1.06],"nice":false},"axis":{"values":[0,0.2,0.4,0.6,0.8,1],"format":".1f","title":"Normalized LI"}},"color":{"field":"c","type":"nominal","scale":{"range":["#7F00BF","#E00000","#0000E0","#FF00FF","#808000","#008B8B","#00A000","#1E90FF"]},"legend":null}}},
  {"data":{"values":[{}]},"mark":{"type":"text","fontSize":9},"encoding":{"x":{"datum":516},"y":{"datum":0.83},"text":{"value":"0 μmol/L"}}},
  {"data":{"values":[{}]},"mark":{"type":"rule","color":"black"},"encoding":{"x":{"datum":511.5},"y":{"datum":0.74},"y2":{"datum":0.27}}},
  {"data":{"values":[{}]},"mark":{"type":"point","shape":"triangle-down","filled":true,"color":"black","size":20,"opacity":1},"encoding":{"x":{"datum":511.5},"y":{"datum":0.25}}},
  {"data":{"values":[{}]},"mark":{"type":"text","fontSize":9},"encoding":{"x":{"datum":513},"y":{"datum":0.2},"text":{"value":"60 μmol/L"}}},
  {"data":{"values":[{}]},"mark":{"type":"text","fontSize":16},"encoding":{"x":{"datum":432.5},"y":{"datum":1.0},"text":{"value":"C"}}}
 ]},
 {"width":143,"height":91,"layer":[
  {"data":{"name":"D"},"mark":{"type":"line","interpolate":"monotone","strokeWidth":1,"clip":true},"encoding":{"x":{"field":"w","type":"quantitative","scale":{"domain":[467,601],"nice":false,"zero":false},"axis":{"values":[480,520,560,600],"title":"Wavelength (nm)","labelFontSize":11}},"y":{"field":"v","type":"quantitative","scale":{"domain":[0,1.03],"nice":false},"axis":{"values":[0,0.2,0.4,0.6,0.8,1],"format":".1f","title":"Normalized LI"}},"color":{"field":"c","type":"nominal","scale":{"range":["#7F00BF","#E00000","#0000E0","#FF00FF","#808000","#008B8B","#00A000","#1E90FF"]},"legend":null}}},
  {"data":{"values":[{}]},"mark":{"type":"text","fontSize":9},"encoding":{"x":{"datum":521},"y":{"datum":0.81},"text":{"value":"0 μmol/L"}}},
  {"data":{"values":[{}]},"mark":{"type":"rule","color":"black"},"encoding":{"x":{"datum":517.5},"y":{"datum":0.71},"y2":{"datum":0.3}}},
  {"data":{"values":[{}]},"mark":{"type":"point","shape":"triangle-down","filled":true,"color":"black","size":20,"opacity":1},"encoding":{"x":{"datum":517.5},"y":{"datum":0.28}}},
  {"data":{"values":[{}]},"mark":{"type":"text","fontSize":9},"encoding":{"x":{"datum":521},"y":{"datum":0.22},"text":{"value":"80 μmol/L"}}},
  {"data":{"values":[{}]},"mark":{"type":"text","fontSize":16},"encoding":{"x":{"datum":440},"y":{"datum":1.0},"text":{"value":"D"}}}
 ]},
 {"width":136,"height":91,"layer":[
  {"data":{"name":"E"},"mark":{"type":"line","interpolate":"monotone","strokeWidth":1,"clip":true},"encoding":{"x":{"field":"w","type":"quantitative","scale":{"domain":[472,602],"nice":false,"zero":false},"axis":{"values":[480,520,560,600],"title":"Wavelength (nm)","labelFontSize":11}},"y":{"field":"v","type":"quantitative","scale":{"domain":[0,1.03],"nice":false},"axis":{"values":[0,0.2,0.4,0.6,0.8,1],"format":".1f","title":"Normalized LI"}},"color":{"field":"c","type":"nominal","scale":{"range":["#7F00BF","#E00000","#0000E0","#FF00FF","#808000","#008B8B","#00A000","#1E90FF"]},"legend":null}}},
  {"data":{"values":[{}]},"mark":{"type":"text","fontSize":9},"encoding":{"x":{"datum":519},"y":{"datum":0.81},"text":{"value":"0 μmol/L"}}},
  {"data":{"values":[{}]},"mark":{"type":"rule","color":"black"},"encoding":{"x":{"datum":517.8},"y":{"datum":0.71},"y2":{"datum":0.28}}},
  {"data":{"values":[{}]},"mark":{"type":"point","shape":"triangle-down","filled":true,"color":"black","size":20,"opacity":1},"encoding":{"x":{"datum":517.8},"y":{"datum":0.26}}},
  {"data":{"values":[{}]},"mark":{"type":"text","fontSize":9},"encoding":{"x":{"datum":518.5},"y":{"datum":0.19},"text":{"value":"80 μmol/L"}}},
  {"data":{"values":[{}]},"mark":{"type":"text","fontSize":16},"encoding":{"x":{"datum":435.7},"y":{"datum":1.0},"text":{"value":"E"}}}
 ]}
],"spacing":32,"bounds":"flush"},
{"hconcat":[
 {"width":124,"height":96,"layer":[
  {"layer":[
   {"data":{"name":"F"},"mark":{"type":"line","interpolate":"monotone","color":"black","strokeWidth":1.2},"encoding":{"x":{"field":"x","type":"quantitative","scale":{"domain":[-4,89],"nice":false,"zero":false},"axis":{"values":[0,20,40,60,80],"title":"Hg²⁺ (μmol/L)","titleFontSize":14,"labelFontSize":13,"titlePadding":0}},"y":{"field":"y","type":"quantitative","scale":{"domain":[0,1.03],"nice":false},"axis":{"values":[0,0.2,0.4,0.6,0.8,1],"format":".1f","title":"Normalized LI","titleFontSize":14}}}},
   {"data":{"name":"F"},"mark":{"type":"point","shape":"square","filled":true,"color":"black","size":18,"opacity":1},"encoding":{"x":{"field":"x","type":"quantitative"},"y":{"field":"y","type":"quantitative"}}},
   {"data":{"values":[{}]},"mark":{"type":"text","fontSize":16},"encoding":{"x":{"datum":-32.5},"y":{"datum":1.0},"text":{"value":"F"}}}
  ]},
  {"layer":[
   {"data":{"values":[{}]},"mark":{"type":"rect","fill":"white","stroke":"#222","strokeWidth":1},"encoding":{"x":{"datum":-1.5},"x2":{"datum":20.6},"y":{"datum":0.29},"y2":{"datum":1.05}}},
   {"data":{"name":"Fi"},"mark":{"type":"line","interpolate":"monotone","color":"black","strokeWidth":1},"encoding":{"x":{"field":"x","type":"quantitative","scale":{"domain":[-1.5,20.6],"range":[50,121],"nice":false,"zero":false},"axis":{"orient":"bottom","offset":-37,"values":[0,5,10,15,20],"title":"Hg²⁺ (μmol/L)","labelFontSize":7,"titleFontSize":7,"tickSize":2,"labelPadding":0,"titlePadding":0,"domain":false,"labelOverlap":false}},"y":{"field":"y","type":"quantitative","scale":{"domain":[0.29,1.05],"range":[59,2],"nice":false,"zero":false},"axis":{"orient":"left","offset":-50,"values":[0.4,0.6,0.8,1.0],"format":".1f","title":"Normalized LI","labelFontSize":7,"titleFontSize":7,"tickSize":2,"labelPadding":0,"titlePadding":1,"domain":false,"labelOverlap":false}}}},
   {"data":{"name":"Fi"},"mark":{"type":"point","shape":"square","filled":true,"color":"black","size":8,"opacity":1},"encoding":{"x":{"field":"x","type":"quantitative"},"y":{"field":"y","type":"quantitative"}}},
   {"data":{"values":[{}]},"mark":{"type":"text","fontSize":8,"fontStyle":"italic"},"encoding":{"x":{"datum":14.7},"y":{"datum":0.86},"text":{"value":"R² = 0.995"}}}
  ]}
 ],"resolve":{"scale":{"x":"independent","y":"independent"},"axis":{"x":"independent","y":"independent"}}},
 {"width":124,"height":96,"layer":[
  {"layer":[
   {"data":{"name":"G"},"mark":{"type":"line","interpolate":"monotone","color":"black","strokeWidth":1.2},"encoding":{"x":{"field":"x","type":"quantitative","scale":{"domain":[-4.3,42.7],"nice":false,"zero":false},"axis":{"values":[0,10,20,30,40],"title":"Al³⁺ (μmol/L)","titleFontSize":14,"labelFontSize":13,"titlePadding":0}},"y":{"field":"y","type":"quantitative","scale":{"domain":[0,1.04],"nice":false},"axis":{"values":[0,0.2,0.4,0.6,0.8,1],"format":".1f","title":"Normalized LI","titleFontSize":14}}}},
   {"data":{"name":"G"},"mark":{"type":"point","shape":"square","filled":true,"color":"black","size":18,"opacity":1},"encoding":{"x":{"field":"x","type":"quantitative"},"y":{"field":"y","type":"quantitative"}}},
   {"data":{"values":[{}]},"mark":{"type":"text","fontSize":16},"encoding":{"x":{"datum":-18.7},"y":{"datum":1.0},"text":{"value":"G"}}}
  ]},
  {"layer":[
   {"data":{"values":[{}]},"mark":{"type":"rect","fill":"white","stroke":"#222","strokeWidth":1},"encoding":{"x":{"datum":-0.6},"x2":{"datum":15.1},"y":{"datum":0.2},"y2":{"datum":1.06}}},
   {"data":{"name":"Gi"},"mark":{"type":"line","color":"black","strokeWidth":1},"encoding":{"x":{"field":"x","type":"quantitative","scale":{"domain":[-0.6,15.1],"range":[59,121],"nice":false,"zero":false},"axis":{"orient":"bottom","offset":-43,"values":[0,4,8,12],"title":"Al³⁺ (μmol/L)","labelFontSize":7,"titleFontSize":7,"tickSize":2,"labelPadding":0,"titlePadding":0,"domain":false,"labelOverlap":false}},"y":{"field":"y","type":"quantitative","scale":{"domain":[0.2,1.06],"range":[53,2],"nice":false,"zero":false},"axis":{"orient":"left","offset":-59,"values":[0.3,0.4,0.5,0.6,0.7,0.8,0.9,1.0],"format":".1f","title":"Normalized LI","labelFontSize":6,"titleFontSize":7,"tickSize":2,"labelPadding":0,"titlePadding":1,"domain":false,"labelOverlap":false}}}},
   {"data":{"name":"Gi"},"mark":{"type":"point","shape":"square","filled":true,"color":"black","size":8,"opacity":1},"encoding":{"x":{"field":"x","type":"quantitative"},"y":{"field":"y","type":"quantitative"}}},
   {"data":{"values":[{}]},"mark":{"type":"text","fontSize":8,"fontStyle":"italic"},"encoding":{"x":{"datum":4.3},"y":{"datum":0.57},"text":{"value":"R² = 0.997"}}}
  ]}
 ],"resolve":{"scale":{"x":"independent","y":"independent"},"axis":{"x":"independent","y":"independent"}}},
 {"width":128,"height":96,"layer":[
  {"layer":[
   {"data":{"name":"H"},"transform":[{"filter":"datum.x <= 20"}],"mark":{"type":"line","interpolate":"monotone","color":"#E00000","strokeWidth":1.5},"encoding":{"x":{"field":"x","type":"quantitative","scale":{"domain":[-4,68],"nice":false,"zero":false},"axis":{"values":[0,20,40,60],"title":"Pb²⁺ (μmol/L)","titleFontSize":14,"labelFontSize":13,"titlePadding":0}},"y":{"field":"y","type":"quantitative","scale":{"domain":[0,1.02],"nice":false},"axis":{"values":[0,0.2,0.4,0.6,0.8,1],"format":".1f","title":"Normalized LI","titleFontSize":14}}}},
   {"data":{"name":"H"},"mark":{"type":"point","shape":"square","filled":true,"color":"black","size":18,"opacity":1},"encoding":{"x":{"field":"x","type":"quantitative"},"y":{"field":"y","type":"quantitative"}}},
   {"data":{"values":[{}]},"mark":{"type":"text","fontSize":9,"fontStyle":"italic"},"encoding":{"x":{"datum":7.5},"y":{"datum":0.18},"text":{"value":"R²=0.971"}}},
   {"data":{"values":[{}]},"mark":{"type":"text","fontSize":16},"encoding":{"x":{"datum":-25.4},"y":{"datum":1.0},"text":{"value":"H"}}}
  ]},
  {"layer":[
   {"data":{"values":[{}]},"mark":{"type":"rect","fill":"white","stroke":"#222","strokeWidth":1},"encoding":{"x":{"datum":-0.9},"x2":{"datum":11},"y":{"datum":0.32},"y2":{"datum":1.02}}},
   {"data":{"name":"Hf"},"mark":{"type":"line","color":"#777","strokeWidth":1},"encoding":{"x":{"field":"x","type":"quantitative","scale":{"domain":[-0.9,11],"range":[47,125],"nice":false,"zero":false},"axis":{"orient":"bottom","offset":-32,"values":[0,2,4,6,8,10],"title":"Pb²⁺ (μmol/L)","labelFontSize":7,"titleFontSize":7,"tickSize":2,"labelPadding":0,"titlePadding":0,"domain":false,"labelOverlap":false}},"y":{"field":"y","type":"quantitative","scale":{"domain":[0.32,1.02],"range":[64,1],"nice":false,"zero":false},"axis":{"orient":"left","offset":-47,"values":[0.4,0.6,0.8,1.0],"format":".1f","title":"Normalized LI","labelFontSize":7,"titleFontSize":7,"tickSize":2,"labelPadding":0,"titlePadding":1,"domain":false,"labelOverlap":false}}}},
   {"data":{"name":"Hi"},"mark":{"type":"point","shape":"square","filled":true,"color":"black","size":8,"opacity":1},"encoding":{"x":{"field":"x","type":"quantitative"},"y":{"field":"y","type":"quantitative"}}},
   {"data":{"values":[{}]},"mark":{"type":"text","fontSize":8,"fontStyle":"italic"},"encoding":{"x":{"datum":7.2},"y":{"datum":0.8},"text":{"value":"R² = 0.993"}}}
  ]}
 ],"resolve":{"scale":{"x":"independent","y":"independent"},"axis":{"x":"independent","y":"independent"}}},
 {"width":134,"height":96,"layer":[
  {"layer":[
   {"data":{"name":"I"},"mark":{"type":"line","interpolate":"monotone","color":"black","strokeWidth":1.2},"encoding":{"x":{"field":"x","type":"quantitative","scale":{"domain":[-3.5,88],"nice":false,"zero":false},"axis":{"values":[0,20,40,60,80],"title":"Cu²⁺ (μmol/L)","titleFontSize":14,"labelFontSize":13,"titlePadding":0}},"y":{"field":"y","type":"quantitative","scale":{"domain":[0,1.05],"nice":false},"axis":{"values":[0,0.2,0.4,0.6,0.8,1],"format":".1f","title":"Normalized LI","titleFontSize":14}}}},
   {"data":{"name":"I"},"mark":{"type":"point","shape":"square","filled":true,"color":"black","size":18,"opacity":1},"encoding":{"x":{"field":"x","type":"quantitative"},"y":{"field":"y","type":"quantitative"}}},
   {"data":{"values":[{}]},"mark":{"type":"text","fontSize":16},"encoding":{"x":{"datum":-29.5},"y":{"datum":1.0},"text":{"value":"I"}}}
  ]},
  {"layer":[
   {"data":{"values":[{}]},"mark":{"type":"rect","fill":"white","stroke":"#222","strokeWidth":1},"encoding":{"x":{"datum":-1.7},"x2":{"datum":21.9},"y":{"datum":0.28},"y2":{"datum":1.04}}},
   {"data":{"name":"Ii"},"mark":{"type":"line","color":"black","strokeWidth":1},"encoding":{"x":{"field":"x","type":"quantitative","scale":{"domain":[-1.7,21.9],"range":[48,131],"nice":false,"zero":false},"axis":{"orient":"bottom","offset":-35,"values":[0,5,10,15,20],"title":"Cu²⁺ (μmol/L)","labelFontSize":7,"titleFontSize":7,"tickSize":2,"labelPadding":0,"titlePadding":0,"domain":false,"labelOverlap":false}},"y":{"field":"y","type":"quantitative","scale":{"domain":[0.28,1.04],"range":[61,1],"nice":false,"zero":false},"axis":{"orient":"left","offset":-48,"values":[0.4,0.6,0.8,1.0],"format":".1f","title":"Normalized LI","labelFontSize":7,"titleFontSize":7,"tickSize":2,"labelPadding":0,"titlePadding":1,"domain":false,"labelOverlap":false}}}},
   {"data":{"name":"Ii"},"mark":{"type":"point","shape":"square","filled":true,"color":"black","size":8,"opacity":1},"encoding":{"x":{"field":"x","type":"quantitative"},"y":{"field":"y","type":"quantitative"}}},
   {"data":{"values":[{}]},"mark":{"type":"text","fontSize":8,"fontStyle":"italic"},"encoding":{"x":{"datum":15.6},"y":{"datum":0.78},"text":{"value":"R² = 0.993"}}}
  ]}
 ],"resolve":{"scale":{"x":"independent","y":"independent"},"axis":{"x":"independent","y":"independent"}}},
 {"width":132,"height":96,"layer":[
  {"layer":[
   {"data":{"name":"J"},"mark":{"type":"line","interpolate":"monotone","color":"black","strokeWidth":1.2},"encoding":{"x":{"field":"x","type":"quantitative","scale":{"domain":[-7.5,91],"nice":false,"zero":false},"axis":{"values":[0,20,40,60,80],"title":"Zn²⁺ (μmol/L)","titleFontSize":14,"labelFontSize":13,"titlePadding":0}},"y":{"field":"y","type":"quantitative","scale":{"domain":[0,1.08],"nice":false},"axis":{"values":[0,0.2,0.4,0.6,0.8,1],"format":".1f","title":"Normalized LI","titleFontSize":14}}}},
   {"data":{"name":"J"},"mark":{"type":"point","shape":"square","filled":true,"color":"black","size":18,"opacity":1},"encoding":{"x":{"field":"x","type":"quantitative"},"y":{"field":"y","type":"quantitative"}}},
   {"data":{"values":[{}]},"mark":{"type":"text","fontSize":16},"encoding":{"x":{"datum":-35.9},"y":{"datum":1.0},"text":{"value":"J"}}}
  ]},
  {"layer":[
   {"data":{"values":[{}]},"mark":{"type":"rect","fill":"white","stroke":"#222","strokeWidth":1},"encoding":{"x":{"datum":-0.7},"x2":{"datum":8.65},"y":{"datum":0.49},"y2":{"datum":1.08}}},
   {"data":{"name":"Ji"},"mark":{"type":"line","color":"black","strokeWidth":1},"encoding":{"x":{"field":"x","type":"quantitative","scale":{"domain":[-0.7,8.65],"range":[54,130],"nice":false,"zero":false},"axis":{"orient":"bottom","offset":-30,"values":[0,2,4,6,8],"title":"Zn²⁺ (μmol/L)","labelFontSize":7,"titleFontSize":7,"tickSize":2,"labelPadding":0,"titlePadding":0,"domain":false,"labelOverlap":false}},"y":{"field":"y","type":"quantitative","scale":{"domain":[0.49,1.08],"range":[66,1],"nice":false,"zero":false},"axis":{"orient":"left","offset":-54,"values":[0.6,0.8,1.0],"format":".1f","title":"Normalized LI","labelFontSize":7,"titleFontSize":7,"tickSize":2,"labelPadding":0,"titlePadding":1,"domain":false,"labelOverlap":false}}}},
   {"data":{"name":"Ji"},"mark":{"type":"point","shape":"square","filled":true,"color":"black","size":8,"opacity":1},"encoding":{"x":{"field":"x","type":"quantitative"},"y":{"field":"y","type":"quantitative"}}},
   {"data":{"values":[{}]},"mark":{"type":"text","fontSize":8,"fontStyle":"italic"},"encoding":{"x":{"datum":5.45},"y":{"datum":0.92},"text":{"value":"R² = 0.998"}}}
  ]}
 ],"resolve":{"scale":{"x":"independent","y":"independent"},"axis":{"x":"independent","y":"independent"}}}
],"spacing":36,"bounds":"flush"}
]
}
